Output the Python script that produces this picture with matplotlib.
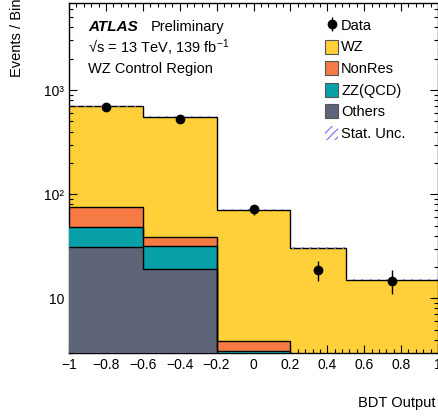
import numpy as np
import matplotlib
matplotlib.use("Agg")
import matplotlib.pyplot as plt
from matplotlib.ticker import FixedLocator, MultipleLocator, LogLocator, NullFormatter
from matplotlib.patches import Patch

plt.rcParams['font.family'] = ['Liberation Sans', 'DejaVu Sans']
plt.rcParams['mathtext.fontset'] = 'custom'
plt.rcParams['mathtext.rm'] = 'Liberation Sans'
plt.rcParams['mathtext.it'] = 'Liberation Sans:italic'
plt.rcParams['mathtext.bf'] = 'Liberation Sans:bold'
plt.rcParams['hatch.linewidth'] = 0.9

# ---- data ----
edges = [-1.0, -0.6, -0.2, 0.2, 0.5, 1.0]
others = [31.4, 19.3, 2.2, 1.0, 0.5]
zz_qcd = [17.5, 12.6, 0.9, 0.5, 0.3]
nonres = [26.0, 7.3, 0.8, 0.8, 0.4]
wz_total = [701.0, 554.0, 71.0, 30.5, 15.1]
data_x = [-0.8, -0.4, 0.0, 0.35, 0.75]
data_y = [690.0, 526.0, 71.5, 18.5, 14.6]
data_err_lo = [26.0, 23.0, 8.0, 3.9, 3.5]
data_err_hi = [26.0, 23.0, 8.0, 4.2, 4.0]
stat_rel = [0.008, 0.008, 0.012, 0.015, 0.018]

col_wz = '#FFD03A'
col_nonres = '#F57A44'
col_zz = '#08A1AA'
col_others = '#5E6579'
col_stat = '#7F7FF0'

W, H = 438, 418
fig = plt.figure(figsize=(W / 100, H / 100), dpi=100)
ax = fig.add_axes([69 / W, 1 - 352.7 / H, 1 - 69 / W, (352.7 - 3) / H])

e = np.array(edges)
o = np.array(others)
z = np.array(zz_qcd)
n = np.array(nonres)
t = np.array(wz_total)

c1 = o
c2 = o + z
c3 = o + z + n
base = np.full_like(o, 1e-3)

ax.stairs(t, e, baseline=base, fill=True, color=col_wz, zorder=1)
ax.stairs(c3, e, baseline=base, fill=True, color=col_nonres, zorder=2)
ax.stairs(c2, e, baseline=base, fill=True, color=col_zz, zorder=3)
ax.stairs(c1, e, baseline=base, fill=True, color=col_others, zorder=4)
for top in [t, c3, c2, c1]:
    ax.stairs(top, e, baseline=None, color='black', linewidth=1.0, zorder=5)

# stat uncertainty band
sr = np.array(stat_rel)
ax.bar(e[:-1], 2 * t * sr, width=np.diff(e), bottom=t * (1 - sr), align='edge',
       fill=False, hatch='////', edgecolor=col_stat, linewidth=0, zorder=6)

# data
ax.errorbar(data_x, data_y, yerr=[data_err_lo, data_err_hi], fmt='o', color='black',
            markersize=6, elinewidth=1.0, capsize=0, zorder=7)

ax.set_yscale('log')
ax.set_xlim(-1, 1)
ax.set_ylim(3, 6870)

ax.xaxis.set_major_locator(FixedLocator([-1, -0.8, -0.6, -0.4, -0.2, 0, 0.2, 0.4, 0.6, 0.8, 1.0]))
ax.xaxis.set_minor_locator(MultipleLocator(0.04))
ax.set_xticklabels(['\u22121', '\u22120.8', '\u22120.6', '\u22120.4', '\u22120.2', '0', '0.2', '0.4', '0.6', '0.8', '1'])
ax.yaxis.set_major_locator(FixedLocator([10, 100, 1000]))
ax.yaxis.set_minor_locator(LogLocator(base=10, subs=np.arange(2, 10)))
ax.yaxis.set_minor_formatter(NullFormatter())
ax.set_yticklabels(['10', '10\u00b2', '10\u00b3'])

ax.tick_params(which='both', direction='in', top=True, right=True, labelsize=10)
ax.tick_params(which='major', length=6, width=0.8)
ax.tick_params(which='minor', length=3, width=0.8)
ax.tick_params(axis='x', pad=4)
for s in ax.spines.values():
    s.set_linewidth(1.0)

# labels
fig.text(17.5 / W, 1.004, 'Events / Bin', rotation=90, ha='center', va='top', fontsize=10.5)
fig.text(358 / W, 1 - 403 / H, 'BDT Output', ha='left', va='center', fontsize=10.5)

fig.text(88 / W, 1 - 27 / H, 'ATLAS', fontsize=11, fontweight='bold', style='italic', va='center')
fig.text(151 / W, 1 - 27 / H, 'Preliminary', fontsize=10.5, va='center')
fig.text(88 / W, 1 - 48 / H, '\u221as = 13 TeV, 139 fb$^{-1}$', fontsize=10.5, va='center')
fig.text(88 / W, 1 - 69 / H, 'WZ Control Region', fontsize=10.5, va='center')

# legend
h_data = ax.errorbar([], [], yerr=[], fmt='o', color='black', markersize=6, elinewidth=1.0)
handles = [h_data,
           Patch(facecolor=col_wz, edgecolor='#555555', linewidth=0.8),
           Patch(facecolor=col_nonres, edgecolor='#555555', linewidth=0.8),
           Patch(facecolor=col_zz, edgecolor='#555555', linewidth=0.8),
           Patch(facecolor=col_others, edgecolor='#555555', linewidth=0.8),
           Patch(facecolor='none', edgecolor=col_stat, hatch='////', linewidth=0)]
labels = ['Data', 'WZ', 'NonRes', 'ZZ(QCD)', 'Others', 'Stat. Unc.']
leg = fig.legend(handles, labels, loc='upper left', bbox_to_anchor=(325 / W, 1 - 18 / H),
                 frameon=False, fontsize=10.5, handlelength=0.9, handleheight=1.1,
                 handletextpad=0.2, labelspacing=0.45, borderpad=0, borderaxespad=0)

fig.savefig('out.png', dpi=100)
